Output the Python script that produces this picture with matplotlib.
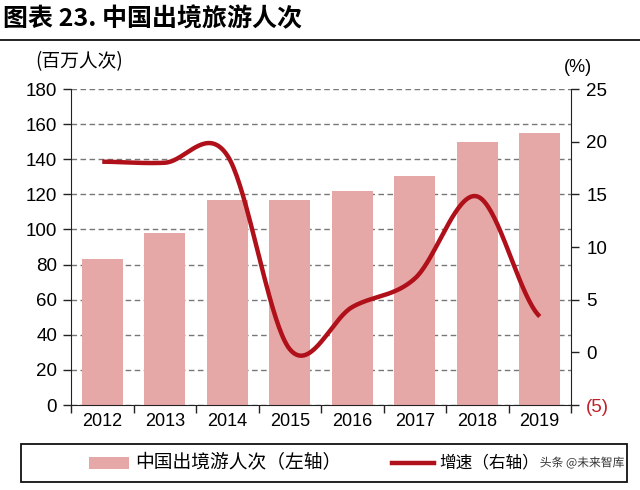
import matplotlib
matplotlib.use('Agg')
import matplotlib.pyplot as plt
import numpy as np
from matplotlib.patches import Rectangle
from matplotlib.lines import Line2D
import matplotlib.patheffects as pe

plt.rcParams['font.family'] = ['Liberation Sans', 'Noto Sans CJK SC']

# data
years = ['2012', '2013', '2014', '2015', '2016', '2017', '2018', '2019']
trips = [83.2, 98.2, 116.6, 117.0, 122.0, 130.5, 149.7, 155.0]   # 百万人次
growth = [18.1, 18.0, 18.7, 0.3, 4.3, 7.0, 14.8, 3.4]             # %
left_ticks = [0, 20, 40, 60, 80, 100, 120, 140, 160, 180]
right_ticks = [-5, 0, 5, 10, 15, 20, 25]

BAR = '#E6A8A7'
LINE = '#B0101A'
CJK = ['Noto Sans CJK SC', 'DejaVu Sans']
W, H = 640, 490


def smooth(xs, ys, n=40):
    """Catmull-Rom style smoothing like Excel's smoothed line."""
    xs = np.asarray(xs, float)
    ys = np.asarray(ys, float)
    m = np.zeros_like(ys)
    m[1:-1] = (ys[2:] - ys[:-2]) / 2
    m[0] = (ys[1] - ys[0]) / 2
    m[-1] = (ys[-1] - ys[-2]) / 2
    ox, oy = [], []
    for i in range(len(xs) - 1):
        t = np.linspace(0, 1, n, endpoint=False)
        h00 = 2 * t**3 - 3 * t**2 + 1
        h10 = t**3 - 2 * t**2 + t
        h01 = -2 * t**3 + 3 * t**2
        h11 = t**3 - t**2
        ox.extend(xs[i] + t * (xs[i + 1] - xs[i]))
        oy.extend(h00 * ys[i] + h10 * m[i] + h01 * ys[i + 1] + h11 * m[i + 1])
    ox.append(xs[-1])
    oy.append(ys[-1])
    return np.array(ox), np.array(oy)


fig = plt.figure(figsize=(6.4, 4.9), dpi=100, facecolor='white')
ax = fig.add_axes([71 / W, 1 - 405 / H, 500 / W, 316 / H])
ax2 = ax.twinx()

x = np.arange(len(years))
ax.bar(x, trips, width=0.66, color=BAR, zorder=2)
ax.set_xlim(-0.5, len(years) - 0.5)
ax.set_ylim(0, 180)
ax.set_yticks(left_ticks)
ax.set_axisbelow(True)
ax.yaxis.grid(True, linestyle=(0, (4, 2.5)), color='#777777', linewidth=1.0)
ax.set_xticks(x)
ax.set_xticklabels(years, fontsize=13)
ax.tick_params(axis='x', which='major', length=0, pad=6)
ax.set_xticks(np.arange(-0.5, len(years)), minor=True)
ax.tick_params(axis='x', which='minor', length=6, width=1, direction='out', color='#222222')
ax.tick_params(axis='y', length=6, width=1, direction='out', labelsize=13.5, pad=4, color='#222222')
for s in ['top', 'right']:
    ax.spines[s].set_visible(False)
for s in ['left', 'bottom']:
    ax.spines[s].set_color('#222222')

sx, sy = smooth(x, growth)
ax2.plot(sx, sy, color=LINE, linewidth=3.2, solid_capstyle='butt', zorder=3)
ax2.set_ylim(-5, 25)
ax2.set_yticks(right_ticks)
ax2.set_yticklabels(['(5)' if v < 0 else str(v) for v in right_ticks])
ax2.get_yticklabels()[0].set_color('#C0202A')
ax2.tick_params(axis='y', length=6, width=1, direction='out', labelsize=13.5, pad=5, color='#222222')
for s in ['top', 'left', 'bottom']:
    ax2.spines[s].set_visible(False)
ax2.spines['right'].set_color('#222222')

# title and unit labels
fig.text(3 / W, 1 - 19 / H, '图表 23. 中国出境旅游人次', family=CJK, fontsize=18,
         fontweight='bold', va='center', ha='left')
fig.add_artist(Line2D([0, 1], [1 - 40 / H] * 2, color='#111111', linewidth=1.3))
fig.text(35 / W, 1 - 62 / H, '(百万人次)', family=CJK, fontsize=13.5, va='center', ha='left')
fig.text(578 / W, 1 - 68 / H, '(%)', fontsize=13, va='center', ha='center')

# legend
fig.add_artist(Rectangle((21 / W, 1 - 482 / H), 606 / W, 38 / H, transform=fig.transFigure,
                         facecolor='white', edgecolor='#111111', linewidth=1.3))
ly = 1 - 463 / H
fig.add_artist(Rectangle((89 / W, ly - 6 / H), 40 / W, 12 / H, transform=fig.transFigure,
                         facecolor=BAR, edgecolor='none'))
fig.text(135 / W, ly, '中国出境游人次（左轴）', family=CJK, fontsize=13.5, va='center', ha='left')
fig.add_artist(Line2D([392 / W, 434 / W], [ly, ly], color=LINE, linewidth=3.2))
fig.text(439 / W, ly, '增速（右轴）', family=CJK, fontsize=12, va='center', ha='left')
fig.text(624 / W, ly, '头条 @未来智库', family=CJK, fontsize=8.5, va='center', ha='right',
         color='#333333', path_effects=[pe.withStroke(linewidth=2.5, foreground='white')])

fig.savefig('out.png', dpi=100, facecolor='white')
